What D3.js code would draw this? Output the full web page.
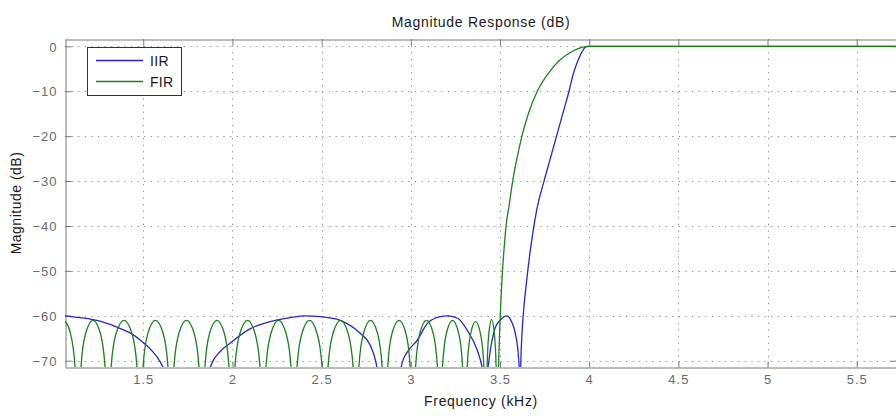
<!DOCTYPE html>
<html><head><meta charset="utf-8">
<script src="https://cdn.jsdelivr.net/npm/d3@7"></script>
<style>
html,body{margin:0;padding:0;background:#fff;}
svg{display:block;}
text{font-family:"Liberation Sans",Arial,Helvetica,sans-serif;}
</style></head>
<body>
<svg id="chart" width="896" height="418"></svg>
<script>
// ---- data ----
const title = "Magnitude Response (dB)";
const xLabel = "Frequency (kHz)";
const yLabel = "Magnitude (dB)";
const seriesNames = ["IIR", "FIR"];
const xTicks = [1.5, 2, 2.5, 3, 3.5, 4, 4.5, 5, 5.5];
const yTicks = [0, -10, -20, -30, -40, -50, -60, -70];
const xDomain = [1.061, 5.726];
const yDomain = [-71.4, 1.63];

const iirFreq = [1.061,1.145,1.257,1.369,1.442,1.498,1.549,1.594,1.622,1.745,
  1.863,1.885,1.930,1.986,2.098,2.211,2.323,2.407,2.491,2.603,2.716,2.772,2.805,2.816,2.878,
  2.940,2.951,2.985,3.035,3.091,3.153,3.209,3.265,3.316,3.372,3.394,3.405,3.422,
  3.430,3.438,3.472,3.500,3.538,3.567,3.584,3.603,3.608,3.612,
  3.616,3.622,3.631,3.650,3.668,3.685,3.706,3.747,3.782,3.817,3.852,3.887,3.912,3.939,3.960,3.977,3.994,4.5,5.0,5.75];
const iirDb = [-60.0,-60.4,-61.2,-62.8,-64.2,-65.9,-67.8,-70.2,-72.5,-95,
  -73,-70.5,-68.0,-66.1,-62.9,-61.3,-60.4,-60.0,-60.2,-61.0,-63.9,-66.5,-70.5,-73,-95,
  -73,-70.5,-67.8,-65.5,-61.8,-60.3,-60.0,-60.6,-63.2,-67.6,-70.5,-73,-95,
  -73,-70,-62.8,-61.0,-60.0,-61.5,-63.6,-68.8,-72,-95,
  -72,-65,-59.5,-52.0,-46,-41.3,-36.4,-30,-25,-20,-15,-10,-6,-3,-1.2,-0.25,0,0,0,0];

const firFreq = [1.061,1.089,1.117,1.134,
  1.151,1.176,1.218,1.260,1.285,1.302,
  1.320,1.347,1.392,1.437,1.464,1.482,
  1.499,1.525,1.568,1.612,1.638,1.655,
  1.672,1.699,1.742,1.786,1.812,1.829,
  1.846,1.871,1.913,1.955,1.980,1.997,
  2.014,2.041,2.084,2.127,2.154,2.171,
  2.188,2.215,2.258,2.301,2.328,2.345,
  2.362,2.389,2.432,2.475,2.502,2.519,
  2.536,2.563,2.606,2.649,2.676,2.693,
  2.709,2.734,2.774,2.814,2.839,2.855,
  2.871,2.894,2.934,2.973,2.996,3.012,
  3.027,3.050,3.088,3.126,3.149,3.164,
  3.178,3.199,3.234,3.269,3.290,3.304,
  3.316,3.334,3.363,3.392,3.410,3.422,
  3.428,3.438,3.453,3.468,3.478,3.484,
  3.492,3.500,3.507,3.514,3.523,3.534,3.551,3.571,3.597,3.623,3.659,3.709,3.771,3.837,3.902,3.958,3.994,4.5,5.0,5.75];
const firDb = [-61.2,-63.5,-71.2,-95,
  -71.2,-64,-61,-64,-71.2,-95,
  -71.2,-64,-61,-64,-71.2,-95,
  -71.2,-64,-61,-64,-71.2,-95,
  -71.2,-64,-61,-64,-71.2,-95,
  -71.2,-64,-61,-64,-71.2,-95,
  -71.2,-64,-61,-64,-71.2,-95,
  -71.2,-64,-61,-64,-71.2,-95,
  -71.2,-64,-61,-64,-71.2,-95,
  -71.2,-64,-61,-64,-71.2,-95,
  -71.2,-64,-61,-64,-71.2,-95,
  -71.2,-64,-61,-64,-71.2,-95,
  -71.2,-64,-61,-64,-71.2,-95,
  -71.2,-64,-61,-64,-71.2,-95,
  -71.4,-64.3,-61.3,-64.3,-71.4,-95,
  -71,-63.8,-60.8,-63.8,-71,-95,
  -72,-61.5,-55,-50,-45,-40,-35.5,-30,-24.6,-20,-15,-10,-6,-3,-1.2,-0.25,0,0,0,0];

// ---- layout ----
const svg = d3.select("#chart");
const L = 65, R = 897, T = 39, B = 367;
const x = d3.scaleLinear().domain(xDomain).range([L, R]);
const y = d3.scaleLinear().domain(yDomain).range([B, T]);
const axisColor = "#7a7a7a", tickTextColor = "#6a6a6a";

svg.append("rect").attr("width", 896).attr("height", 418).attr("fill", "#fff");

svg.append("defs").append("clipPath").attr("id", "clip")
  .append("rect").attr("x", L).attr("y", T).attr("width", R - L).attr("height", B - T);

// grid
const grid = svg.append("g").attr("stroke", "#8a8a8a").attr("stroke-width", 1)
  .attr("stroke-dasharray", "1.2,5.4");
grid.selectAll("line.vx").data(xTicks).join("line")
  .attr("x1", d => Math.round(x(d)) + 0.5).attr("x2", d => Math.round(x(d)) + 0.5)
  .attr("y1", T).attr("y2", B);
grid.selectAll("line.hy").data(yTicks).join("line")
  .attr("y1", d => Math.round(y(d)) + 0.5).attr("y2", d => Math.round(y(d)) + 0.5)
  .attr("x1", L).attr("x2", R);

// axes (ticks inward, MATLAB style)
const tk = 6;
const axB = svg.append("g").attr("transform", `translate(0,${B + 0.5})`)
  .call(d3.axisBottom(x).tickValues(xTicks).tickSizeInner(-tk).tickSizeOuter(0).tickPadding(7)
    .tickFormat(d3.format("")));
const axT = svg.append("g").attr("transform", `translate(0,${T + 0.5})`)
  .call(d3.axisTop(x).tickValues(xTicks).tickSizeInner(-tk).tickSizeOuter(0).tickFormat(() => ""));
const axL = svg.append("g").attr("transform", `translate(${L + 0.5},0)`)
  .call(d3.axisLeft(y).tickValues(yTicks).tickSizeInner(-tk).tickSizeOuter(0).tickPadding(8)
    .tickFormat(d3.format("")));
const axR = svg.append("g").attr("transform", `translate(${R - 0.5},0)`)
  .call(d3.axisRight(y).tickValues(yTicks).tickSizeInner(-tk).tickSizeOuter(0).tickFormat(() => ""));
[axB, axT, axL, axR].forEach(a => {
  a.selectAll("path").attr("stroke", axisColor);
  a.selectAll("line").attr("stroke", axisColor);
  a.selectAll("text").attr("fill", tickTextColor).style("font-size", "13px")
    .style("letter-spacing", "1px").style("font-family", '"Liberation Sans",Arial,sans-serif');
});
axL.selectAll("text").attr("dy", "0.36em");

// curves
const line = d3.line().x(d => x(d[0])).y(d => y(d[1])).curve(d3.curveMonotoneX);
const plot = svg.append("g").attr("clip-path", "url(#clip)");
const colors = ["#2626c8", "#1d801f"];
const iirPts = iirFreq.map((f, i) => [f, iirDb[i]]);
const firPts = firFreq.map((f, i) => [f, firDb[i]]);
plot.append("path").attr("d", line(iirPts)).attr("fill", "none").attr("stroke", colors[0]).attr("stroke-width", 1.3);
plot.append("path").attr("d", line(firPts)).attr("fill", "none").attr("stroke", colors[1]).attr("stroke-width", 1.3);

// title & labels
const cx = (L + R) / 2;
svg.append("text").attr("x", cx).attr("y", 27).attr("text-anchor", "middle")
  .attr("fill", "#1a1a1a").style("font-size", "14px").style("letter-spacing", "0.7px").text(title);
svg.append("text").attr("x", cx).attr("y", 406).attr("text-anchor", "middle")
  .attr("fill", "#1a1a1a").style("font-size", "14px").style("letter-spacing", "0.7px").text(xLabel);
svg.append("text").attr("transform", `translate(21,${(T + B) / 2}) rotate(-90)`).attr("text-anchor", "middle")
  .attr("fill", "#1a1a1a").style("font-size", "14px").style("letter-spacing", "0.5px").text(yLabel);

// legend
const lg = svg.append("g");
lg.append("rect").attr("x", 87.5).attr("y", 47.5).attr("width", 94).attr("height", 48)
  .attr("fill", "#fff").attr("stroke", "#333").attr("stroke-width", 1);
const ly = [60.5, 81.5];
seriesNames.forEach((n, i) => {
  lg.append("line").attr("x1", 96).attr("x2", 143).attr("y1", ly[i]).attr("y2", ly[i])
    .attr("stroke", colors[i]).attr("stroke-width", 1.3);
  lg.append("text").attr("x", 150).attr("y", ly[i] + 5).attr("fill", "#1a1a1a")
    .style("font-size", "14px").style("letter-spacing", "0.3px").text(n);
});
</script>
</body></html>
